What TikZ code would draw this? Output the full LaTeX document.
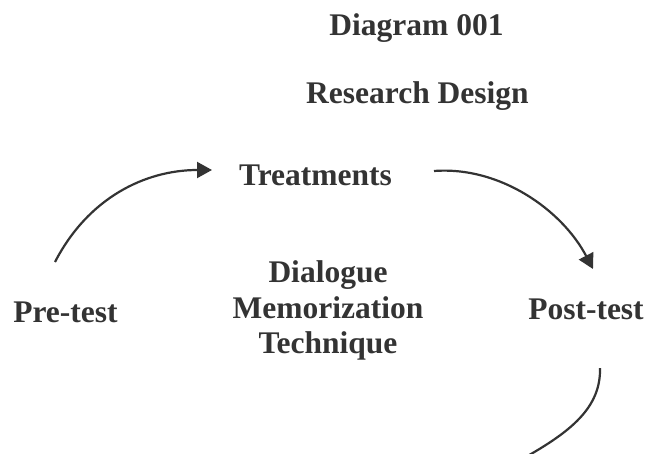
\documentclass[tikz,border=0pt]{standalone}
\usepackage{fontspec}
\setmainfont{Liberation Serif}
\usetikzlibrary{arrows.meta}
\definecolor{ink}{HTML}{333333}
\begin{document}
\begin{tikzpicture}[x=1pt,y=-1pt,
  lbl/.style={inner sep=0pt,anchor=base,text=ink,font=\fontsize{31.5}{35.5}\selectfont\bfseries},
  conn/.style={draw=ink,line width=2.2pt,-{Triangle[length=15pt,width=16pt]}},
  plain/.style={draw=ink,line width=2.2pt}]
\useasboundingbox (0,0) rectangle (647,453);
\node[lbl] (title) at (416.5,35) {Diagram 001};
\node[lbl] (sub) at (417.5,103) {Research Design};
\node[lbl] (treat) at (315.5,185) {Treatments};
\node[lbl] (pre) at (65.5,322) {Pre-test};
\node[lbl] (post) at (586,319) {Post-test};
\node[lbl,anchor=north,align=center] (tech) at (328,260.5) {Dialogue\\Memorization\\Technique};
\coordinate (a1s) at (55,262);
\coordinate (a1e) at (212,170);
\coordinate (a2s) at (434,171);
\coordinate (a2e) at (593,269);
\coordinate (a3s) at (600,368);
\coordinate (a3e) at (524,458);
\draw[conn] (a1s) .. controls (88,198) and (145,170) .. (a1e);
\draw[conn] (a2s) .. controls (500,166) and (562,210) .. (a2e);
\draw[plain] (a3s) .. controls (601,408) and (570,432) .. (a3e);
\end{tikzpicture}
\end{document}
